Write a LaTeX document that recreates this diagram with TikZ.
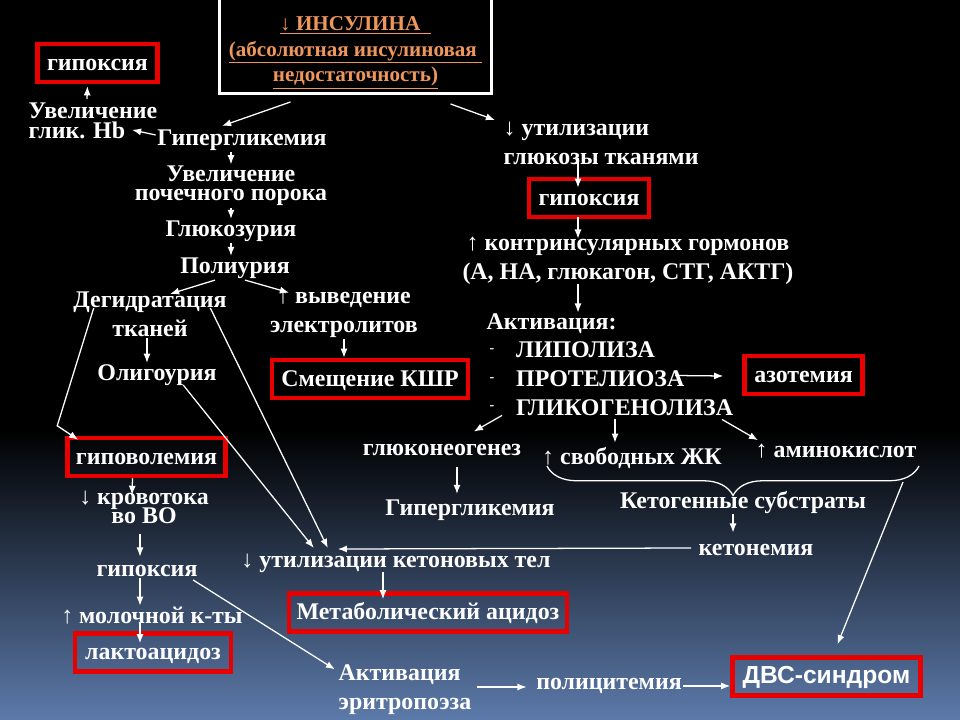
\documentclass[tikz,border=0pt]{standalone}
\usepackage{fontspec}
\setmainfont{Liberation Serif}
\newfontfamily\arialfont{Liberation Sans}
\usetikzlibrary{calc,arrows.meta,decorations.pathreplacing}

\definecolor{boxred}{RGB}{232,0,0}
\definecolor{titleorange}{RGB}{238,150,92}
\definecolor{deepblue}{RGB}{92,122,170}

\setlength{\lineskiplimit}{-50pt}
\newcommand{\listdash}{\makebox[21pt][l]{\hspace{2pt}\raisebox{4pt}{\fontsize{10}{10}\selectfont -}}}

\begin{document}
\begin{tikzpicture}[x=0.025cm,y=-0.025cm]
			
			\tikzset{
				term/.style={
					text=white,
					inner sep=1pt,
					align=center,
					font=\bfseries\fontsize{17}{20.5}\selectfont
				},
				tight/.style={
					term,
					font=\bfseries\fontsize{17}{13.6}\selectfont
				},
				alarm/.style={
					term,
					draw=boxred,
					line width=3.2pt,
					minimum height=0.95cm,
					text height=10.6pt,
					text depth=0pt,
					inner sep=2pt
				},
				titlebox/.style={
					draw=white,
					line width=2.2pt,
					minimum width=6.8cm,
					minimum height=2.1cm,
					align=center,
					text=titleorange,
					font=\bfseries\fontsize{15}{18}\selectfont
				},
				link/.style={
					draw=white,
					line width=0.9pt,
					-{Latex[length=6.5pt,width=5pt]}
				}
			}
			
			% BACKGROUND
			\useasboundingbox (0,0) rectangle (960,720);
			\fill[black] (0,0) rectangle (960,720);
			\shade[top color=black, bottom color=deepblue] (0,430) rectangle (960,720);
			
			% TITLE
			\node[titlebox] (title) at (355.5,45) {
				\rule{0pt}{21pt}\underline{↓ ИНСУЛИНА\ \ }\\
				\underline{(абсолютная инсулиновая\ }\\
				\underline{недостаточность)}
			};
			
			% LEFT BRANCH
			\node[alarm, minimum width=3.0cm] (hypoxiaA) at (97.5,63) {гипоксия};
			\node[tight, align=left, anchor=west, font=\bfseries\fontsize{17}{14.5}\selectfont] (glycHb) at (27,121) {Увеличение\\глик. Hb};
			\node[term] (hyperA) at (242,140) {Гипергликемия};
			\node[tight] (kidney) at (231,186) {Увеличение\\почечного порока};
			\node[term] (glucosuria) at (231,231) {Глюкозурия};
			\node[term] (polyuria) at (235,268) {Полиурия};
			\node[term] (dehydr) at (150,314) {Дегидратация\\тканей};
			\node[term] (electro) at (344,314) {↑ выведение\\электролитов};
			\node[term] (oliguria) at (157,375) {Олигоурия};
			\node[alarm, minimum width=4.9cm] (shift) at (370,379) {Смещение КШР};
			\node[alarm, minimum width=3.95cm] (hypovol) at (146.5,457) {гиповолемия};
			\node[tight] (bloodflow) at (144,507) {↓ кровотока\\во ВО};
			\node[term] (hypoxiaC) at (147,571) {гипоксия};
			\node[term] (lactic) at (152,616) {↑ молочной к-ты};
			\node[alarm, minimum width=3.9cm] (lactacid) at (153,652.5) {лактоацидоз};
			\node[term, align=left, anchor=west] (erythro) at (337,690) {Активация\\эритропоэза};
			\node[term] (polycyt) at (609,686) {полицитемия};
			\node[alarm, minimum width=4.7cm, font=\arialfont\bfseries\fontsize{17.5}{20}\selectfont] (dic) at (826.5,676.5) {ДВС-синдром};
			
			% RIGHT BRANCH
			\node[term, align=left, anchor=west] (glcuse) at (502,143) {↓ утилизации\\глюкозы тканями};
			\node[alarm, minimum width=3.0cm] (hypoxiaB) at (589,198) {гипоксия};
			\node[term] (counter) at (628,261) {↑ контринсулярных гормонов\\(А, НА, глюкагон, СТГ, АКТГ)};
			\node[term, align=left, anchor=west] (activ) at (485,364.5) {
				Активация:\\
				\listdash ЛИПОЛИЗА\\
				\listdash ПРОТЕЛИОЗА\\
				\listdash ГЛИКОГЕНОЛИЗА
			};
			\node[alarm, minimum width=2.95cm] (azot) at (803.5,375) {азотемия};
			\node[term] (gluconeo) at (442,450) {глюконеогенез};
			\node[term] (ffa) at (632,458) {↑ свободных ЖК};
			\node[term] (amino) at (836,451) {↑ аминокислот};
			\node[term] (ketosub) at (743,503) {Кетогенные субстраты};
			\node[term] (ketonemia) at (756,550) {кетонемия};
			\node[term] (hyperB) at (470,510) {Гипергликемия};
			\node[term] (ketuse) at (396,563) {↓ утилизации кетоновых тел};
			\node[alarm, minimum width=6.95cm] (acidosis) at (428,612.5) {Метаболический ацидоз};
			
			% BRACE
			\coordinate (braceL) at (547,466);
			\coordinate (braceR) at (919,466);
			\coordinate (braceD) at (903,482);
			\draw[white, line width=0.9pt, decorate, decoration={brace, amplitude=21pt}] (braceR) -- (braceL);
			
			% TITLE LINKS
			\draw[link] ($(title.south)+(-65,7)$) -- ($(hyperA.north)+(-20,-2)$);
			\draw[link] ($(title.south)+(95,9)$) -- ($(glcuse.north west)+(-7,0)$);
			
			% LEFT BRANCH LINKS
			\draw[link] ($(hyperA.west)+(0,-5)$) -- ($(glycHb.south west)+(105,-11)$);
			\draw[link] ($(glycHb.north west)+(60,-2)$) -- ($(hypoxiaA.south)+(-10,2)$);
			\draw[link] (hyperA.south -| kidney) -- (kidney.north);
			\draw[link] (kidney.south) -- (glucosuria.north);
			\draw[link] (glucosuria.south) -- (glucosuria.south |- polyuria.north);
			\draw[link] ($(polyuria.south)+(-20,0)$) -- ($(dehydr.north)+(20,4)$);
			\draw[link] ($(polyuria.south)+(10,0)$) -- ($(electro.north)+(-55,4)$);
			\draw[link] ($(dehydr.south)+(-3,0)$) -- ($(oliguria.north)+(-10,0)$);
			\draw[link] (electro.south) -- (electro.south |- shift.north);
			\draw[link] ($(dehydr.west)+(22,-6)$) -- ($(hypovol.north west)+(-8,-10)$) -- ($(hypovol.north west)+(13,4)$);
			\draw[link] ($(dehydr.east)+(-18,-6)$) -- ($(ketuse.north west)+(88,-4)$);
			\draw[link] ($(oliguria.east)+(-35,10)$) -- ($(ketuse.north west)+(74,-4)$);
			\draw[link] ($(hypovol.south)+(-14,0)$) -- ($(bloodflow.north)+(-12,6)$);
			\draw[link] ($(bloodflow.south)+(-4,9)$) -- ($(hypoxiaC.north)+(-7,-7)$);
			\draw[link] ($(hypoxiaC.south)+(-7,0)$) -- ($(lactic.north)+(-12,0)$);
			\draw[link] ($(lactic.south)+(-12,-3)$) -- ($(lactacid.north)+(-13,12)$);
			\draw[link] ($(hypoxiaC.east)+(-6,9)$) -- ($(erythro.north west)+(-2,6)$);
			\draw[link] ($(erythro.east)+(4,-3)$) -- ($(polycyt.west)+(-8,1)$);
			\draw[link] (polycyt.east) -- (polycyt.east -| dic.west);
			\draw[link] (braceD) -- ($(dic.north)+(11,-11)$);
			
			% RIGHT BRANCH LINKS
			\draw[link] ($(glcuse.south west)+(76,-8)$) -- ($(hypoxiaB.north)+(-11,11)$);
			\draw[link] ($(hypoxiaB.south)+(-11,-2)$) -- ($(counter.north)+(-50,3)$);
			\draw[link] ($(counter.south)+(-50,-2)$) -- ($(activ.north west)+(93,1)$);
			\draw[link] ($(activ.west)+(190,11)$) -- ($(azot.west)+(-19,1)$);
			\draw[link] ($(activ.south west)+(17,-2)$) -- ($(gluconeo.north east)+(-49,-11)$);
			\draw[link] ($(activ.south west)+(130,2)$) -- ($(ffa.north)+(-17,-3)$);
			\draw[link] ($(activ.south west)+(237,2)$) -- ($(amino.north west)+(4,-2)$);
			\draw[link] ($(gluconeo.south)+(15,10)$) -- ($(hyperB.north)+(-13,-4)$);
			\draw[link] ($(ketosub.south)+(-10,-2)$) -- ($(ketonemia.north)+(-23,-10)$);
			\draw[link] ($(ketonemia.west)+(-6,-2)$) -- ($(ketuse.north west)+(98,-3)$);
			\draw[link] ($(ketuse.south)+(-13,-2)$) -- ($(acidosis.north)+(-45,8)$);
			
		\end{tikzpicture}
\end{document}
